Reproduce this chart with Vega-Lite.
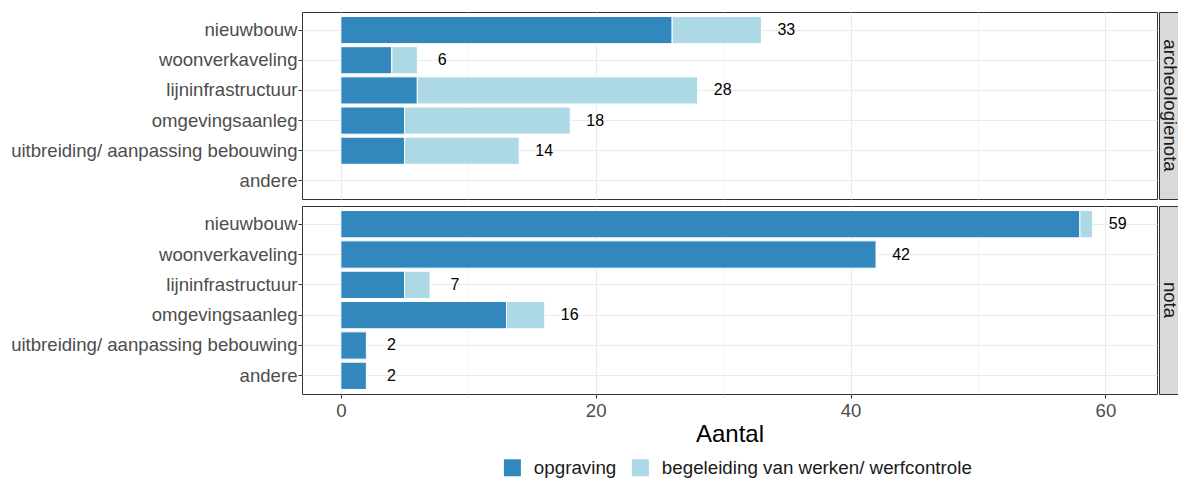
{
  "$schema": "https://vega.github.io/schema/vega-lite/v6.json",
  "padding": {"left": 10, "top": 11, "right": 0, "bottom": 0},
  "autosize": {"type": "pad"},
  "background": "white",
  "config": {
    "font": "Liberation Sans",
    "view": {"stroke": "#333333", "strokeWidth": 1},
    "axis": {
      "labelFont": "Liberation Sans",
      "titleFont": "Liberation Sans",
      "labelFontSize": 18.6,
      "labelColor": "#4D4D4D",
      "labelLimit": 0,
      "tickColor": "#333333",
      "tickSize": 4,
      "domain": false,
      "gridColor": "#EBEBEB"
    },
    "legend": {
      "labelFont": "Liberation Sans",
      "labelFontSize": 18.8,
      "labelColor": "#1A1A1A",
      "labelLimit": 0
    }
  },
  "datasets": {
    "d": [
      {"nota": "archeologienota", "soort": "nieuwbouw", "type": "opgraving", "n": 26},
      {"nota": "archeologienota", "soort": "nieuwbouw", "type": "begeleiding van werken/ werfcontrole", "n": 7},
      {"nota": "archeologienota", "soort": "woonverkaveling", "type": "opgraving", "n": 4},
      {"nota": "archeologienota", "soort": "woonverkaveling", "type": "begeleiding van werken/ werfcontrole", "n": 2},
      {"nota": "archeologienota", "soort": "lijninfrastructuur", "type": "opgraving", "n": 6},
      {"nota": "archeologienota", "soort": "lijninfrastructuur", "type": "begeleiding van werken/ werfcontrole", "n": 22},
      {"nota": "archeologienota", "soort": "omgevingsaanleg", "type": "opgraving", "n": 5},
      {"nota": "archeologienota", "soort": "omgevingsaanleg", "type": "begeleiding van werken/ werfcontrole", "n": 13},
      {"nota": "archeologienota", "soort": "uitbreiding/ aanpassing bebouwing", "type": "opgraving", "n": 5},
      {"nota": "archeologienota", "soort": "uitbreiding/ aanpassing bebouwing", "type": "begeleiding van werken/ werfcontrole", "n": 9},
      {"nota": "nota", "soort": "nieuwbouw", "type": "opgraving", "n": 58},
      {"nota": "nota", "soort": "nieuwbouw", "type": "begeleiding van werken/ werfcontrole", "n": 1},
      {"nota": "nota", "soort": "woonverkaveling", "type": "opgraving", "n": 42},
      {"nota": "nota", "soort": "lijninfrastructuur", "type": "opgraving", "n": 5},
      {"nota": "nota", "soort": "lijninfrastructuur", "type": "begeleiding van werken/ werfcontrole", "n": 2},
      {"nota": "nota", "soort": "omgevingsaanleg", "type": "opgraving", "n": 13},
      {"nota": "nota", "soort": "omgevingsaanleg", "type": "begeleiding van werken/ werfcontrole", "n": 3},
      {"nota": "nota", "soort": "uitbreiding/ aanpassing bebouwing", "type": "opgraving", "n": 2},
      {"nota": "nota", "soort": "andere", "type": "opgraving", "n": 2}
    ]
  },
  "spacing": 5,
  "vconcat": [
    {
      "spacing": 0,
      "hconcat": [
        {
          "width": 855,
          "height": 187,
          "data": {"name": "d"},
          "transform": [{"filter": "datum.nota === 'archeologienota'"}],
          "encoding": {
            "y": {
              "field": "soort",
              "type": "nominal",
              "scale": {
                "domain": ["nieuwbouw", "woonverkaveling", "lijninfrastructuur", "omgevingsaanleg", "uitbreiding/ aanpassing bebouwing", "andere"],
                "paddingInner": 0.1,
                "paddingOuter": 0.15
              },
              "axis": {"title": null, "grid": true, "bandPosition": 0.5, "labelPadding": 1}
            }
          },
          "layer": [
            {
              "mark": {"type": "bar", "stroke": "white", "strokeWidth": 1},
              "encoding": {
                "x": {
                  "field": "n",
                  "type": "quantitative",
                  "aggregate": "sum",
                  "stack": "zero",
                  "scale": {"domain": [-3.05, 64.05], "nice": false, "zero": false},
                  "axis": {
                    "title": null,
                    "values": [0, 10, 20, 30, 40, 50, 60],
                    "labels": false,
                    "ticks": false,
                    "grid": true,
                    "gridWidth": {"condition": {"test": "datum.value % 20 === 0", "value": 1.1}, "value": 0.55}
                  }
                },
                "color": {
                  "field": "type",
                  "type": "nominal",
                  "scale": {
                    "domain": ["opgraving", "begeleiding van werken/ werfcontrole"],
                    "range": ["#3288BD", "#ADD8E6"]
                  },
                  "legend": {
                    "title": null,
                    "orient": "none",
                    "direction": "horizontal",
                    "legendX": 201,
                    "legendY": 446,
                    "symbolType": "square",
                    "symbolSize": 289,
                    "symbolStrokeWidth": 0,
                    "labelOffset": 12,
                    "columnPadding": 14
                  }
                },
                "order": {"field": "type", "sort": "descending"}
              }
            },
            {
              "mark": {"type": "text", "dx": 25, "align": "center", "fontSize": 16, "color": "#000000"},
              "encoding": {
                "x": {"field": "n", "type": "quantitative", "aggregate": "sum"},
                "text": {"field": "n", "type": "quantitative", "aggregate": "sum"}
              }
            }
          ]
        },
        {
          "width": 22,
          "height": 187,
          "view": {"fill": "#D9D9D9", "stroke": "#333333"},
          "data": {"values": [{"panel": "archeologienota"}]},
          "mark": {"type": "text", "angle": 90, "fontSize": 18.6, "color": "#1A1A1A"},
          "encoding": {"text": {"field": "panel", "type": "nominal"}}
        }
      ]
    },
    {
      "spacing": 0,
      "hconcat": [
        {
          "width": 855,
          "height": 188,
          "data": {"name": "d"},
          "transform": [{"filter": "datum.nota === 'nota'"}],
          "encoding": {
            "y": {
              "field": "soort",
              "type": "nominal",
              "scale": {
                "domain": ["nieuwbouw", "woonverkaveling", "lijninfrastructuur", "omgevingsaanleg", "uitbreiding/ aanpassing bebouwing", "andere"],
                "paddingInner": 0.1,
                "paddingOuter": 0.15
              },
              "axis": {"title": null, "grid": true, "bandPosition": 0.5, "labelPadding": 1}
            }
          },
          "layer": [
            {
              "mark": {"type": "bar", "stroke": "white", "strokeWidth": 1},
              "encoding": {
                "x": {
                  "field": "n",
                  "type": "quantitative",
                  "aggregate": "sum",
                  "stack": "zero",
                  "scale": {"domain": [-3.05, 64.05], "nice": false, "zero": false},
                  "axis": {
                    "title": "Aantal",
                    "titleFontSize": 24,
                    "titleFontWeight": "normal",
                    "titleColor": "#000000",
                    "titlePadding": 3,
                    "values": [0, 10, 20, 30, 40, 50, 60],
                    "labelExpr": "datum.value % 20 === 0 ? datum.label : ''",
                    "labelPadding": 3,
                    "tickOpacity": {"condition": {"test": "datum.value % 20 === 0", "value": 1}, "value": 0},
                    "grid": true,
                    "gridWidth": {"condition": {"test": "datum.value % 20 === 0", "value": 1.1}, "value": 0.55}
                  }
                },
                "color": {
                  "field": "type",
                  "type": "nominal",
                  "scale": {
                    "domain": ["opgraving", "begeleiding van werken/ werfcontrole"],
                    "range": ["#3288BD", "#ADD8E6"]
                  }
                },
                "order": {"field": "type", "sort": "descending"}
              }
            },
            {
              "mark": {"type": "text", "dx": 25, "align": "center", "fontSize": 16, "color": "#000000"},
              "encoding": {
                "x": {"field": "n", "type": "quantitative", "aggregate": "sum"},
                "text": {"field": "n", "type": "quantitative", "aggregate": "sum"}
              }
            }
          ]
        },
        {
          "width": 22,
          "height": 188,
          "view": {"fill": "#D9D9D9", "stroke": "#333333"},
          "data": {"values": [{"panel": "nota"}]},
          "mark": {"type": "text", "angle": 90, "fontSize": 18.6, "color": "#1A1A1A"},
          "encoding": {"text": {"field": "panel", "type": "nominal"}}
        }
      ]
    }
  ]
}
